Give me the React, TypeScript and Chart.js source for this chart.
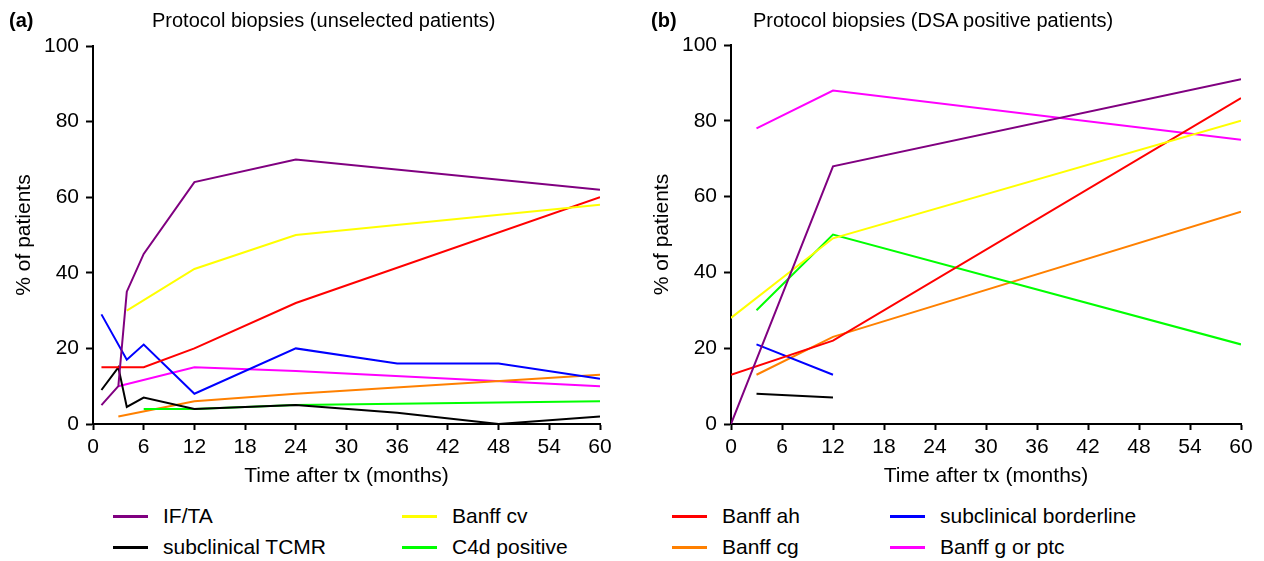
import React, { useEffect, useRef } from "react";
import { Chart, registerables } from "chart.js";

Chart.register(...registerables);

const FONT = "'Liberation Sans', Arial, sans-serif";

// ---- Series names & colours ----
const seriesNames = [
  "IF/TA",
  "Banff cv",
  "Banff ah",
  "subclinical borderline",
  "subclinical TCMR",
  "C4d positive",
  "Banff cg",
  "Banff g or ptc",
];
const seriesColors = [
  "#800080",
  "#FFFF00",
  "#FF0000",
  "#0000FF",
  "#000000",
  "#00FF00",
  "#FF8000",
  "#FF00FF",
];

// ---- Axis ticks ----
const xTickValues = [0, 6, 12, 18, 24, 30, 36, 42, 48, 54, 60];
const yTickValues = [0, 20, 40, 60, 80, 100];

// ---- Panel (a): unselected patients (months, % of patients) ----
const aIftaMonths = [1, 3, 4, 6, 12, 24, 60];
const aIftaValues = [5, 10, 35, 45, 64, 70, 62];
const aCvMonths = [4, 12, 24, 60];
const aCvValues = [30, 41, 50, 58];
const aAhMonths = [1, 6, 12, 24, 60];
const aAhValues = [15, 15, 20, 32, 60];
const aBorderlineMonths = [1, 4, 6, 12, 24, 36, 48, 60];
const aBorderlineValues = [29, 17, 21, 8, 20, 16, 16, 12];
const aTcmrMonths = [1, 3, 4, 6, 12, 24, 36, 48, 60];
const aTcmrValues = [9, 15, 4.5, 7, 4, 5, 3, 0, 2];
const aC4dMonths = [6, 12, 24, 60];
const aC4dValues = [4, 4, 5, 6];
const aCgMonths = [3, 12, 24, 60];
const aCgValues = [2, 6, 8, 13];
const aGptcMonths = [3, 12, 24, 60];
const aGptcValues = [10, 15, 14, 10];

// ---- Panel (b): DSA positive patients ----
const bIftaMonths = [0, 12, 60];
const bIftaValues = [0, 68, 91];
const bCvMonths = [0, 12, 60];
const bCvValues = [28, 49, 80];
const bAhMonths = [0, 12, 60];
const bAhValues = [13, 22, 86];
const bBorderlineMonths = [3, 12];
const bBorderlineValues = [21, 13];
const bTcmrMonths = [3, 12];
const bTcmrValues = [8, 7];
const bC4dMonths = [3, 12, 60];
const bC4dValues = [30, 50, 21];
const bCgMonths = [3, 12, 60];
const bCgValues = [13, 23, 56];
const bGptcMonths = [3, 12, 60];
const bGptcValues = [78, 88, 75];

const panelAMonths = [aIftaMonths, aCvMonths, aAhMonths, aBorderlineMonths, aTcmrMonths, aC4dMonths, aCgMonths, aGptcMonths];
const panelAValues = [aIftaValues, aCvValues, aAhValues, aBorderlineValues, aTcmrValues, aC4dValues, aCgValues, aGptcValues];
const panelBMonths = [bIftaMonths, bCvMonths, bAhMonths, bBorderlineMonths, bTcmrMonths, bC4dMonths, bCgMonths, bGptcMonths];
const panelBValues = [bIftaValues, bCvValues, bAhValues, bBorderlineValues, bTcmrValues, bC4dValues, bCgValues, bGptcValues];

const panelATitle = "Protocol biopsies (unselected patients)";
const panelBTitle = "Protocol biopsies (DSA positive patients)";
const xAxisTitle = "Time after tx (months)";
const yAxisTitle = "% of patients";

// legend order (2 rows x 4 columns)
const legendRows = [
  [0, 1, 2, 3],
  [4, 5, 6, 7],
];

function buildConfig(months: number[][], values: number[][], top: number, rightPad: number): any {
  const datasets = months.map((ms, i) => ({
    label: seriesNames[i],
    data: ms.map((m, j) => ({ x: m, y: values[i][j] })),
    borderColor: seriesColors[i],
    backgroundColor: seriesColors[i],
    borderWidth: 2,
    pointRadius: 0,
    tension: 0,
    fill: false,
  }));
  const tickFont = { family: FONT, size: 21 };
  return {
    type: "line",
    data: { datasets },
    options: {
      animation: false,
      responsive: false,
      events: [],
      layout: { padding: { top, right: rightPad, bottom: 0, left: 0 } },
      plugins: {
        legend: { display: false },
        tooltip: { enabled: false },
        title: { display: false },
      },
      scales: {
        x: {
          type: "linear",
          min: 0,
          max: 60,
          afterBuildTicks: (s: any) => {
            s.ticks = xTickValues.map((v) => ({ value: v }));
          },
          ticks: { color: "#000", font: tickFont, padding: 5, maxRotation: 0, autoSkip: false },
          grid: { display: true, drawOnChartArea: false, drawTicks: true, tickLength: 6, tickColor: "#000", tickWidth: 2 },
          border: { display: true, color: "#000", width: 2 },
          title: { display: true, text: xAxisTitle, color: "#000", font: { family: FONT, size: 21 }, padding: { top: 0, bottom: 6 } },
          afterFit: (s: any) => {
            s.height = 71;
          },
        },
        y: {
          type: "linear",
          min: 0,
          max: 100,
          afterBuildTicks: (s: any) => {
            s.ticks = yTickValues.map((v) => ({ value: v }));
          },
          ticks: { color: "#000", font: tickFont, padding: 7 },
          grid: { display: true, drawOnChartArea: false, drawTicks: true, tickLength: 7, tickColor: "#000", tickWidth: 2 },
          border: { display: true, color: "#000", width: 2 },
          title: { display: true, text: yAxisTitle, color: "#000", font: { family: FONT, size: 21 }, padding: { top: 12, bottom: 0 } },
          afterFit: (s: any) => {
            s.width = 93;
          },
        },
      },
    },
  };
}

function Panel(props: { months: number[][]; values: number[][]; left: number; width: number; top: number; rightPad: number }) {
  const ref = useRef<HTMLCanvasElement>(null);
  useEffect(() => {
    if (!ref.current) return;
    const chart = new Chart(ref.current, buildConfig(props.months, props.values, props.top, props.rightPad));
    return () => chart.destroy();
  }, []);
  return (
    <canvas
      ref={ref}
      width={props.width}
      height={495}
      style={{ position: "absolute", left: props.left, top: 0, width: props.width, height: 495 }}
    />
  );
}

const legendTextX = [163, 452, 722, 940];
const legendRowY = [516, 547];

export default function App() {
  const textStyle: React.CSSProperties = {
    position: "absolute",
    fontFamily: FONT,
    fontSize: 21,
    color: "#000",
    whiteSpace: "nowrap",
    lineHeight: "24px",
  };
  return (
    <div style={{ position: "absolute", left: 0, top: 0, width: 1264, height: 561, background: "#fff", overflow: "hidden" }}>
      <Panel months={panelAMonths} values={panelAValues} left={0} width={632} top={46} rightPad={32} />
      <Panel months={panelBMonths} values={panelBValues} left={638} width={626} top={45} rightPad={23} />

      <div style={{ ...textStyle, left: 9, top: 8, fontWeight: "bold", fontSize: 20 }}>(a)</div>
      <div style={{ ...textStyle, left: 152, top: 8, fontSize: 20 }}>{panelATitle}</div>
      <div style={{ ...textStyle, left: 651, top: 8, fontWeight: "bold", fontSize: 20 }}>(b)</div>
      <div style={{ ...textStyle, left: 753, top: 8, fontSize: 20 }}>{panelBTitle}</div>

      {legendRows.map((row, r) =>
        row.map((idx, c) => (
          <React.Fragment key={idx}>
            <div
              style={{
                position: "absolute",
                left: legendTextX[c] - 50,
                top: legendRowY[r] - 1,
                width: 35,
                height: 3,
                background: seriesColors[idx],
              }}
            />
            <div style={{ ...textStyle, left: legendTextX[c], top: legendRowY[r] - 12 }}>{seriesNames[idx]}</div>
          </React.Fragment>
        ))
      )}
    </div>
  );
}
